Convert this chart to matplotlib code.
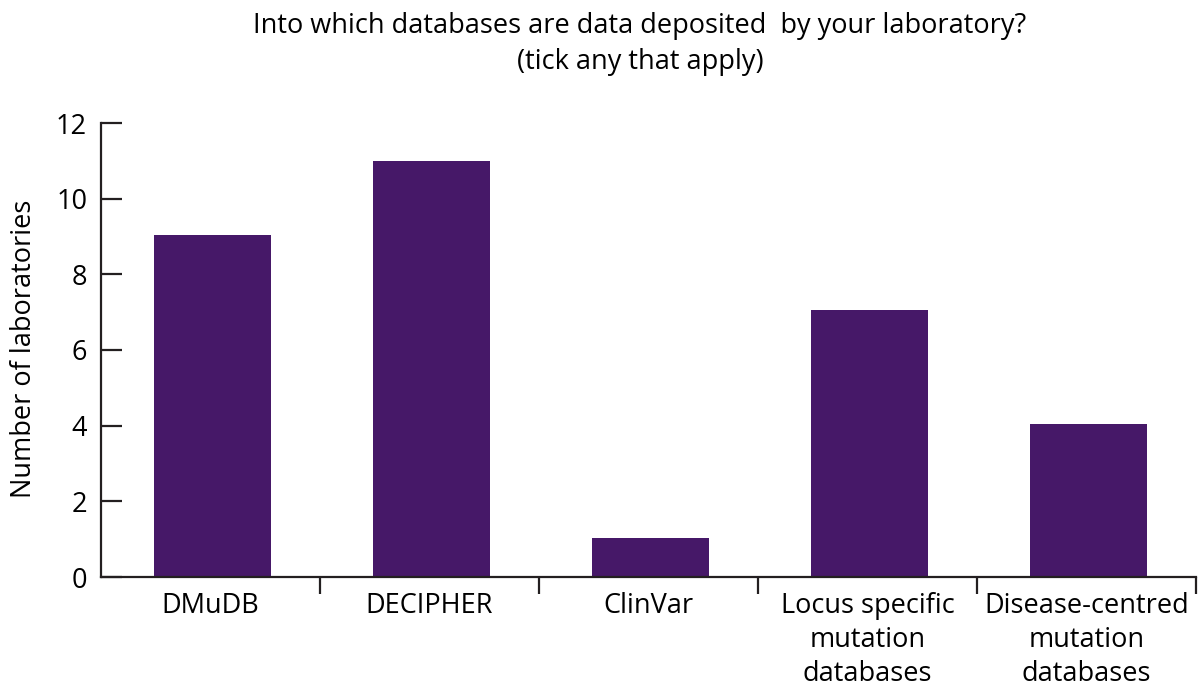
import matplotlib
matplotlib.use("Agg")
import matplotlib.pyplot as plt
import numpy as np

categories = ["DMuDB", "DECIPHER", "ClinVar", "Locus specific\nmutation\ndatabases", "Disease-centred\nmutation\ndatabases"]
values = [9.04, 11, 1.02, 7.06, 4.05]
yticks = [0, 2, 4, 6, 8, 10, 12]

plt.rcParams['font.family'] = ['Open Sans', 'DejaVu Sans']
W, H = 1198, 687
fig = plt.figure(figsize=(W/100, H/100), dpi=100)
ax = fig.add_axes([101/W, 1-577/H, (1196-101)/W, (577-123)/H])

x = np.arange(len(categories))
ax.bar(x + 0.01, values, width=0.535, color='#461868')
ax.set_xlim(-0.5, len(categories)-0.5)
ax.set_ylim(0, 12)

axc = '#231f20'
for s in ['top', 'right']:
    ax.spines[s].set_visible(False)
for s in ['left', 'bottom']:
    ax.spines[s].set_color(axc)
    ax.spines[s].set_linewidth(1.6)

fs = 19.5
ax.set_yticks(yticks)
ax.tick_params(axis='y', direction='in', length=15, width=1.6, color=axc, pad=10, labelsize=fs)
ax.set_xticks(x)
ax.set_xticklabels(categories, fontsize=fs, linespacing=1.27)
ax.tick_params(axis='x', which='major', length=0, pad=11)
ax.set_xticks(np.arange(0.5, len(categories), 1), minor=True)
ax.tick_params(axis='x', which='minor', direction='out', length=12, width=1.6, color=axc)

fig.text(24/W, 1-349/H, "Number of laboratories", rotation=90, ha='center', va='center', fontsize=fs)
fig.text(640/W, 1-12/H, "Into which databases are data deposited  by your laboratory?\n(tick any that apply)",
         ha='center', va='top', fontsize=fs, linespacing=1.4)

fig.savefig("out.png", dpi=100)
